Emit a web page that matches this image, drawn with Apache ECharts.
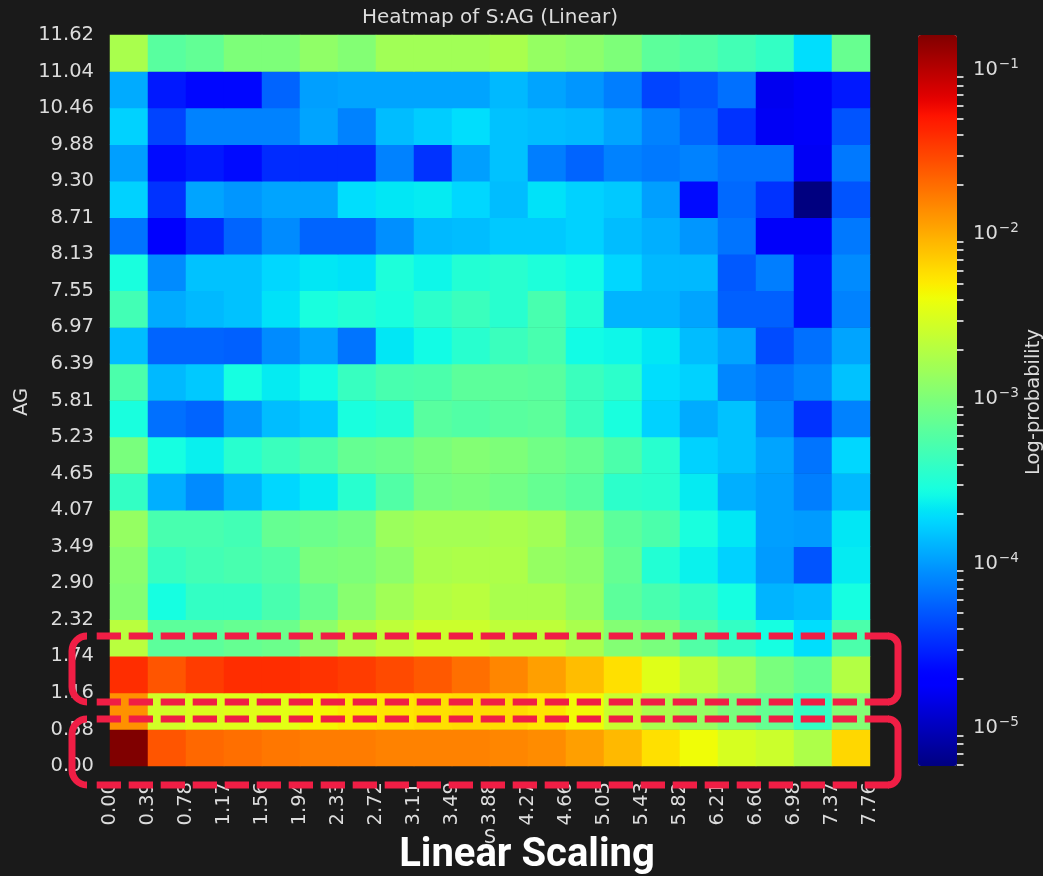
<!DOCTYPE html>
<html>
<head>
<meta charset="utf-8">
<script src="https://cdn.jsdelivr.net/npm/echarts@6/dist/echarts.min.js"></script>
<style>
html,body{margin:0;padding:0;background:#1a1a1a;}
#chart{width:1043px;height:876px;}
</style>
</head>
<body>
<div id="chart"></div>
<script>
// ---- tick labels (bin edges) ----
const sEdges  = ['0.00','0.39','0.78','1.17','1.56','1.94','2.33','2.72','3.11','3.49','3.88','4.27','4.66','5.05','5.43','5.82','6.21','6.60','6.98','7.37','7.76'];
const agEdges = ['0.00','0.58','1.16','1.74','2.32','2.90','3.49','4.07','4.65','5.23','5.81','6.39','6.97','7.55','8.13','8.71','9.30','9.88','10.46','11.04','11.62'];

// ---- log10(probability) per AG row, bottom (AG 0.00-0.58) to top (11.04-11.62), 20 S bins each ----
const row00 = [-0.79,-1.59,-1.68,-1.71,-1.75,-1.77,-1.77,-1.80,-1.80,-1.80,-1.82,-1.85,-1.94,-2.06,-2.24,-2.38,-2.52,-2.58,-2.74,-2.20];
const row01 = [-1.87,-2.55,-2.50,-2.47,-2.45,-2.35,-2.30,-2.27,-2.24,-2.22,-2.22,-2.27,-2.37,-2.60,-2.76,-2.87,-3.02,-3.13,-3.40,-2.97];
const row02 = [-1.40,-1.59,-1.47,-1.40,-1.40,-1.43,-1.47,-1.54,-1.61,-1.71,-1.82,-1.94,-2.08,-2.24,-2.47,-2.65,-2.81,-3.02,-3.13,-2.71];
const row03 = [-2.68,-3.18,-3.18,-3.13,-3.10,-2.92,-2.74,-2.65,-2.58,-2.58,-2.65,-2.65,-2.76,-2.97,-3.02,-3.24,-3.40,-3.56,-3.71,-3.27];
const row04 = [-2.97,-3.56,-3.40,-3.40,-3.29,-3.13,-2.94,-2.81,-2.71,-2.68,-2.76,-2.76,-2.87,-3.18,-3.29,-3.40,-3.56,-3.89,-3.85,-3.56];
const row05 = [-2.94,-3.38,-3.32,-3.29,-3.24,-3.02,-3.00,-2.92,-2.76,-2.74,-2.74,-2.87,-2.92,-3.13,-3.49,-3.62,-3.76,-4.00,-4.31,-3.65];
const row06 = [-2.87,-3.29,-3.29,-3.32,-3.13,-3.10,-3.05,-2.84,-2.79,-2.79,-2.76,-2.81,-2.97,-3.18,-3.27,-3.54,-3.67,-3.98,-4.00,-3.67];
const row07 = [-3.40,-3.91,-4.07,-3.89,-3.74,-3.65,-3.46,-3.24,-3.05,-3.02,-3.07,-3.13,-3.20,-3.44,-3.46,-3.65,-3.91,-3.98,-4.13,-3.87];
const row08 = [-3.02,-3.56,-3.63,-3.46,-3.36,-3.27,-3.13,-3.10,-3.02,-2.97,-3.00,-3.07,-3.13,-3.27,-3.46,-3.76,-3.83,-3.96,-4.17,-3.74];
const row09 = [-3.54,-4.19,-4.24,-4.02,-3.85,-3.80,-3.54,-3.49,-3.20,-3.24,-3.20,-3.18,-3.36,-3.54,-3.76,-3.93,-3.83,-4.09,-4.46,-4.11];
const row10 = [-3.27,-3.87,-3.80,-3.56,-3.65,-3.58,-3.38,-3.29,-3.27,-3.18,-3.18,-3.20,-3.36,-3.44,-3.71,-3.76,-4.09,-4.17,-4.09,-3.83];
const row11 = [-3.85,-4.24,-4.24,-4.26,-4.07,-3.96,-4.17,-3.67,-3.58,-3.46,-3.36,-3.29,-3.58,-3.60,-3.67,-3.85,-3.96,-4.35,-4.19,-3.96];
const row12 = [-3.32,-3.93,-3.87,-3.83,-3.69,-3.54,-3.49,-3.54,-3.44,-3.36,-3.46,-3.29,-3.49,-3.89,-3.89,-3.96,-4.26,-4.26,-4.61,-4.11];
const row13 = [-3.54,-4.07,-3.83,-3.83,-3.74,-3.67,-3.69,-3.52,-3.60,-3.49,-3.46,-3.52,-3.58,-3.74,-3.87,-3.87,-4.29,-4.13,-4.61,-4.07];
const row14 = [-4.17,-4.74,-4.49,-4.24,-4.07,-4.24,-4.24,-4.05,-3.87,-3.85,-3.80,-3.80,-3.76,-3.85,-3.91,-4.02,-4.17,-4.76,-4.76,-4.15];
const row15 = [-3.76,-4.46,-3.96,-4.02,-3.96,-3.96,-3.71,-3.67,-3.65,-3.74,-3.85,-3.69,-3.76,-3.80,-3.98,-4.63,-4.22,-4.46,-5.23,-4.31];
const row16 = [-3.98,-4.63,-4.57,-4.63,-4.49,-4.49,-4.49,-4.11,-4.46,-3.98,-3.83,-4.13,-4.24,-4.11,-4.15,-4.11,-4.19,-4.19,-4.78,-4.15];
const row17 = [-3.76,-4.38,-4.11,-4.11,-4.11,-3.96,-4.11,-3.85,-3.78,-3.71,-3.83,-3.85,-3.87,-3.96,-4.11,-4.24,-4.46,-4.78,-4.76,-4.31];
const row18 = [-3.93,-4.57,-4.65,-4.65,-4.24,-3.98,-3.96,-3.96,-3.96,-3.96,-3.87,-3.96,-4.02,-4.13,-4.38,-4.31,-4.19,-4.80,-4.76,-4.57];
const row19 = [-2.76,-3.20,-3.15,-3.00,-3.00,-2.90,-2.97,-2.81,-2.81,-2.81,-2.76,-2.87,-2.92,-3.00,-3.18,-3.24,-3.32,-3.40,-3.71,-3.12];
const logProbRows = [row00,row01,row02,row03,row04,row05,row06,row07,row08,row09,row10,row11,row12,row13,row14,row15,row16,row17,row18,row19];

// colorbar decades (log10)
const cbMajor = [-5,-4,-3,-2,-1];

// ---- build ----
const TXT = '#dcdcdc';
const FONT = '"DejaVu Sans", sans-serif';
const nx = sEdges.length - 1, ny = agEdges.length - 1;
const xCats = Array.from({length:nx}, (_, i) => i);
const yCats = Array.from({length:ny}, (_, i) => i);
const heatData = [];
let vmin = Infinity, vmax = -Infinity;
logProbRows.forEach((row, yi) => row.forEach((v, xi) => {
  heatData.push([xi, yi, v]);
  vmin = Math.min(vmin, v); vmax = Math.max(vmax, v);
}));
const cbMinor = [];
for (let n = -7; n <= 0; n++) for (let k = 2; k <= 9; k++) {
  const v = n + Math.log10(k);
  if (v > vmin && v < vmax) cbMinor.push(v);
}

// matplotlib 'jet' colormap
function seg(pts, t) {
  for (let i = 1; i < pts.length; i++) {
    if (t <= pts[i][0]) {
      const [t0, v0] = pts[i-1], [t1, v1] = pts[i];
      return v0 + (v1 - v0) * (t - t0) / (t1 - t0);
    }
  }
  return pts[pts.length-1][1];
}
function jet(t) {
  const r = seg([[0,0],[0.35,0],[0.66,1],[0.89,1],[1,0.5]], t);
  const g = seg([[0,0],[0.125,0],[0.375,1],[0.64,1],[0.91,0],[1,0]], t);
  const b = seg([[0,0.5],[0.11,1],[0.34,1],[0.65,0],[1,0]], t);
  return 'rgb(' + Math.round(r*255) + ',' + Math.round(g*255) + ',' + Math.round(b*255) + ')';
}
const jetStops = Array.from({length:129}, (_, i) => jet(i / 128));

function expLabel(v) { return '{b|10}{s|' + String(Math.round(v)).replace('-', '\u2212') + '}'; }

const RED = '#f01e45';
function box(y1, y2) {
  const xl = 72, xr = 898, rl = 15, rr = 10, lw = 7;
  const st = {stroke: RED, lineWidth: lw, fill: 'none'};
  const dash = {stroke: RED, lineWidth: lw, lineDash: [24.3, 7.7]};
  return [
    {type:'line', shape:{x1:96.7, y1:y1, x2:890, y2:y1}, style:dash},
    {type:'line', shape:{x1:96.7, y1:y2, x2:890, y2:y2}, style:dash},
    {type:'arc', shape:{cx:xl+rl, cy:y1+rl, r:rl, startAngle:Math.PI, endAngle:1.5*Math.PI}, style:st},
    {type:'line', shape:{x1:xl, y1:y1+rl, x2:xl, y2:y2-rl}, style:st},
    {type:'arc', shape:{cx:xl+rl, cy:y2-rl, r:rl, startAngle:0.5*Math.PI, endAngle:Math.PI}, style:st},
    {type:'arc', shape:{cx:xr-rr, cy:y1+rr, r:rr, startAngle:-0.5*Math.PI, endAngle:0}, style:st},
    {type:'line', shape:{x1:xr, y1:y1+rr, x2:xr, y2:y2-rr}, style:st},
    {type:'arc', shape:{cx:xr-rr, cy:y2-rr, r:rr, startAngle:0, endAngle:0.5*Math.PI}, style:st}
  ].map(e => Object.assign(e, {z:100, silent:true}));
}
function txt(text, x, y, font, fill, rot, z) {
  return {type:'text', x:x, y:y, rotation:rot || 0, z:z || 50, silent:true,
    style:{text:text, font:font, fill:fill, textAlign:'center', textVerticalAlign:'middle', align:'center', verticalAlign:'middle'}};
}

const chart = echarts.init(document.getElementById('chart'), null, {renderer:'canvas'});
chart.setOption({
  backgroundColor:'#1a1a1a',
  animation:false,
  grid:[
    {left:110, top:35, width:760, height:731},
    {left:918, top:35, width:39, height:731}
  ],
  xAxis:[
    {type:'category', gridIndex:0, data:xCats, show:false, position:'bottom'},
    {type:'category', gridIndex:0, data:sEdges, boundaryGap:false, position:'bottom',
      axisLine:{show:false}, axisTick:{show:false}, splitLine:{show:false},
      axisLabel:{interval:0, rotate:90, margin:16, color:TXT, fontSize:19.5, fontFamily:FONT}},
    {type:'value', gridIndex:1, show:false, min:0, max:1}
  ],
  yAxis:[
    {type:'category', gridIndex:0, data:yCats, show:false, position:'left'},
    {type:'category', gridIndex:0, data:agEdges, boundaryGap:false, position:'left',
      axisLine:{show:false}, axisTick:{show:false}, splitLine:{show:false},
      axisLabel:{interval:0, margin:16, color:TXT, fontSize:19.5, fontFamily:FONT}},
    {type:'value', gridIndex:1, position:'right', min:vmin, max:vmax,
      axisLine:{show:false}, splitLine:{show:false},
      axisTick:{show:true, customValues:cbMajor, length:9, lineStyle:{color:'#e8e8e8', width:2.4}},
      axisLabel:{show:true, customValues:cbMajor, formatter:(v) => expLabel(v), margin:16,
        color:TXT, fontFamily:FONT,
        rich:{
          b:{fontSize:19.5, lineHeight:24, color:TXT, fontFamily:FONT, verticalAlign:'middle'},
          s:{fontSize:13.6, lineHeight:13, padding:[0,0,11,1], color:TXT, fontFamily:FONT, verticalAlign:'middle'}
        }}},
    {type:'value', gridIndex:1, position:'right', min:vmin, max:vmax,
      axisLine:{show:false}, splitLine:{show:false},
      axisTick:{show:true, customValues:cbMinor, length:6.5, lineStyle:{color:'#e8e8e8', width:1.7}},
      axisLabel:{show:false}}
  ],
  visualMap:{
    type:'continuous', min:vmin, max:vmax, dimension:2, seriesIndex:0,
    calculable:false, hoverLink:false, orient:'vertical',
    left:918, top:35, itemWidth:39, itemHeight:731, padding:0,
    inRange:{color:jetStops}
  },
  series:[{
    type:'heatmap', xAxisIndex:0, yAxisIndex:0, data:heatData,
    itemStyle:{borderWidth:0}, emphasis:{disabled:true}
  }],
  graphic:[
    txt('Heatmap of S:AG (Linear)', 490, 18, '20px ' + FONT, TXT),
    txt('AG', 22, 402, '19.5px ' + FONT, TXT, Math.PI/2),
    txt('Log-probability', 1034, 402, '19.5px ' + FONT, TXT, Math.PI/2),
    txt('S', 490, 838, '19.5px ' + FONT, TXT),
    ...box(636, 702),
    ...box(719, 785),
    txt('Linear Scaling', 527, 856, 'bold 40px Roboto', '#ffffff', 0, 120)
  ]
});
</script>
</body>
</html>
